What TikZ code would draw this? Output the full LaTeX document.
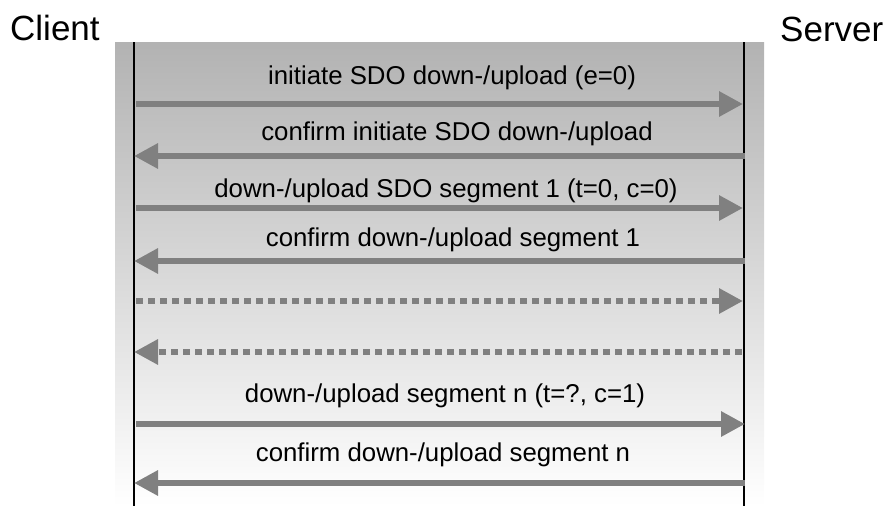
\documentclass[tikz,border=0pt]{standalone}
\usepackage{fontspec}
\setmainfont{Liberation Sans}
\usetikzlibrary{arrows.meta}
\tikzset{
  msg/.style={draw=black!50, line width=6pt, -{Triangle[length=24pt,width=24pt]}},
  msgdots/.style={msg, dash pattern=on 7pt off 5pt},
  lbl/.style={anchor=base, inner sep=0pt, font=\fontsize{25.8}{30}\selectfont},
  role/.style={anchor=base west, inner sep=0pt, font=\fontsize{35}{40}\selectfont}
}
\begin{document}
\begin{tikzpicture}[x=1pt, y=-1pt]
\useasboundingbox (0,0) rectangle (884,506);
\shade[top color=black!30, bottom color=white] (115,42) rectangle (764,506);
\node[role] (client) at (10,40){Client};
\node[role] (server) at (780,41){Server};
\coordinate (ctop) at (134,42);
\coordinate (cbot) at (134,506);
\coordinate (stop) at (744,42);
\coordinate (sbot) at (744,506);
\draw[line width=1.2pt](ctop) -- (cbot);
\draw[line width=1.2pt](stop) -- (sbot);
\coordinate (cl1) at (136,104);
\coordinate (sv1) at (743,104);
\node[lbl] (lbl1) at (452,84){initiate SDO down-/upload (e=0)};
\draw[msg](cl1) -- (sv1);
\coordinate (cl2) at (134,156);
\coordinate (sv2) at (745,156);
\node[lbl] (lbl2) at (457,140){confirm initiate SDO down-/upload};
\draw[msg](sv2) -- (cl2);
\coordinate (cl3) at (136,208);
\coordinate (sv3) at (743,208);
\node[lbl] (lbl3) at (446,197){down-/upload SDO segment 1 (t=0, c=0)};
\draw[msg](cl3) -- (sv3);
\coordinate (cl4) at (134,261);
\coordinate (sv4) at (745,261);
\node[lbl] (lbl4) at (453,246){confirm down-/upload segment 1};
\draw[msg](sv4) -- (cl4);
\coordinate (cl5) at (136,301);
\coordinate (sv5) at (743,301);
\draw[msgdots](cl5) -- (sv5);
\coordinate (cl6) at (134,352);
\coordinate (sv6) at (742,352);
\draw[msgdots](sv6) -- (cl6);
\coordinate (cl7) at (136,424);
\coordinate (sv7) at (745,424);
\node[lbl] (lbl7) at (445,402){down-/upload segment n (t=?, c=1)};
\draw[msg](cl7) -- (sv7);
\coordinate (cl8) at (134,483);
\coordinate (sv8) at (745,483);
\node[lbl] (lbl8) at (443,461){confirm down-/upload segment n};
\draw[msg](sv8) -- (cl8);
\end{tikzpicture}
\end{document}
